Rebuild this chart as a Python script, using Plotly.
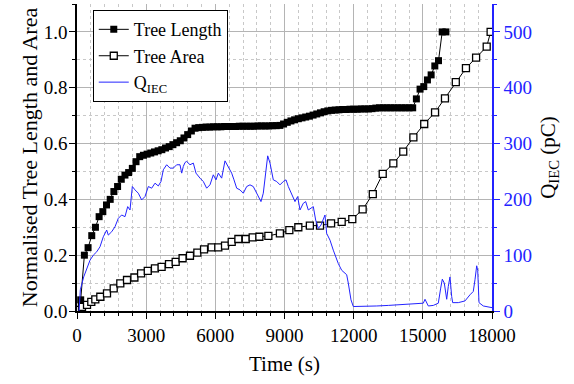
import plotly.graph_objects as go

# ---- Data ----
length_time = [160, 320, 480, 640, 800, 960, 1120, 1280, 1440, 1600,
               1760, 1920, 2080, 2240, 2400, 2560, 2720, 2880, 3040, 3200,
               3360, 3520, 3680, 3840, 4000, 4160, 4320, 4480, 4640, 4800,
               4960, 5120, 5280, 5440, 5600, 5760, 5920, 6080, 6240, 6400,
               6560, 6720, 6880, 7040, 7200, 7360, 7520, 7680, 7840, 8000,
               8160, 8320, 8480, 8640, 8800, 8960, 9120, 9280, 9440, 9600,
               9760, 9920, 10080, 10240, 10400, 10560, 10720, 10880, 11040, 11200,
               11360, 11520, 11680, 11840, 12000, 12160, 12320, 12480, 12640, 12800,
               12960, 13120, 13280, 13440, 13600, 13760, 13920, 14080, 14240, 14400,
               14560, 14720, 14880, 15040, 15200, 15360, 15520, 15680, 15840, 16000]
tree_length = [0.040, 0.200, 0.227, 0.270, 0.300, 0.338, 0.356, 0.380, 0.400, 0.428,
               0.446, 0.472, 0.487, 0.496, 0.511, 0.535, 0.553, 0.558, 0.562, 0.566,
               0.570, 0.574, 0.578, 0.584, 0.589, 0.596, 0.603, 0.610, 0.620, 0.632,
               0.645, 0.655, 0.657, 0.658, 0.659, 0.659, 0.660, 0.660, 0.660, 0.661,
               0.661, 0.661, 0.661, 0.662, 0.662, 0.662, 0.662, 0.662, 0.663, 0.663,
               0.663, 0.663, 0.664, 0.664, 0.665, 0.670, 0.676, 0.681, 0.685, 0.689,
               0.692, 0.695, 0.698, 0.702, 0.706, 0.710, 0.714, 0.717, 0.719, 0.720,
               0.721, 0.722, 0.722, 0.723, 0.723, 0.723, 0.724, 0.724, 0.724, 0.725,
               0.727, 0.728, 0.728, 0.728, 0.728, 0.728, 0.728, 0.728, 0.728, 0.728,
               0.728, 0.760, 0.795, 0.804, 0.828, 0.846, 0.878, 0.897, 1.000, 1.000]

area_time = [60, 217, 434, 620, 794, 1011, 1301, 1592, 1878, 2169,
             2490, 2780, 3070, 3380, 3670, 3990, 4280, 4580, 4900, 5220,
             5510, 5840, 6130, 6420, 6710, 7000, 7320, 7620, 7910, 8300,
             8800, 9210, 9600, 10100, 10540, 11020, 11480, 11940, 12390, 12830,
             13260, 13720, 14150, 14590, 15060, 15530, 15960, 16430, 16870, 17310,
             17770, 17940]
tree_area = [0.004, 0.015, 0.022, 0.033, 0.042, 0.051, 0.063, 0.081, 0.099, 0.111,
             0.120, 0.135, 0.144, 0.153, 0.158, 0.168, 0.176, 0.189, 0.198, 0.209,
             0.221, 0.228, 0.228, 0.234, 0.248, 0.258, 0.258, 0.264, 0.266, 0.269,
             0.278, 0.290, 0.300, 0.306, 0.306, 0.314, 0.319, 0.329, 0.364, 0.419,
             0.491, 0.529, 0.571, 0.622, 0.670, 0.712, 0.762, 0.820, 0.870, 0.908,
             0.947, 1.000]

q_time = [90, 145, 290, 434, 564, 707, 854, 997, 1084, 1141,
          1288, 1357, 1505, 1648, 1792, 1937, 2082, 2199, 2299, 2400,
          2515, 2659, 2804, 2949, 3094, 3239, 3383, 3527, 3643, 3744,
          3889, 4034, 4178, 4323, 4467, 4541, 4611, 4684, 4756, 4901,
          5045, 5161, 5335, 5479, 5624, 5768, 5912, 6029, 6130, 6275,
          6419, 6564, 6709, 6809, 6926, 7069, 7213, 7360, 7503, 7646,
          7794, 7980, 8080, 8197, 8271, 8371, 8514, 8661, 8805, 8948,
          9065, 9165, 9312, 9455, 9571, 9672, 9815, 9919, 10032, 10149,
          10249, 10352, 10467, 10583, 10683, 10756, 10829, 10973, 11116, 11190,
          11333, 11480, 11593, 11697, 11767, 11884, 11984, 12348, 13000, 13502,
          14000, 14443, 14900, 15020, 15094, 15166, 15237, 15454, 15671, 15775,
          15845, 15931, 16035, 16104, 16178, 16251, 16294, 16537, 16828, 17045,
          17188, 17262, 17336, 17380, 17436, 17622, 17912, 18000]
q_iec = [0, 38, 61, 79, 91, 100, 106, 115, 127, 133,
         145, 136, 142, 151, 166, 172, 169, 187, 181, 223,
         217, 211, 199, 205, 223, 220, 229, 224, 232, 253,
         262, 256, 256, 262, 262, 247, 259, 266, 268, 262,
         265, 247, 238, 232, 220, 226, 244, 235, 247, 238,
         269, 259, 247, 235, 220, 217, 211, 223, 226, 223,
         211, 196, 211, 253, 278, 265, 235, 232, 226, 232,
         235, 223, 208, 196, 205, 181, 193, 196, 181, 184,
         187, 163, 148, 154, 163, 172, 139, 127, 109, 100,
         85, 73, 68, 65, 50, 20, 8, 8, 9, 10,
         11, 12.5, 13, 14, 21, 14, 9, 10, 14, 41,
         57, 50, 21, 44, 61, 26, 15, 15, 18, 29,
         35, 56, 81, 73, 15, 9, 7, 6]

x_ticks = [0, 3000, 6000, 9000, 12000, 15000, 18000]

FONT = "Times New Roman, Liberation Serif, serif"
BLUE = "rgb(35,35,255)"
GRID = "rgb(180,180,180)"
MINOR_GRID = "rgb(200,200,200)"

fig = go.Figure()

fig.add_trace(go.Scatter(
    x=length_time, y=tree_length, name="Tree Length",
    mode="lines+markers",
    line=dict(color="black", width=1),
    marker=dict(symbol="square", size=7, color="black"),
))
fig.add_trace(go.Scatter(
    x=area_time, y=tree_area, name="Tree Area",
    mode="lines+markers",
    line=dict(color="black", width=1),
    marker=dict(symbol="square", size=7, color="white",
                line=dict(color="black", width=1.3)),
))
fig.add_trace(go.Scatter(
    x=q_time, y=q_iec, name="Q<sub>IEC</sub>",
    mode="lines", yaxis="y2",
    line=dict(color=BLUE, width=1),
))

fig.update_layout(
    width=574, height=384,
    margin=dict(l=77, r=82, t=4, b=73, autoexpand=False),
    paper_bgcolor="white", plot_bgcolor="white",
    font=dict(family=FONT, color="black", size=19),
    showlegend=True,
    legend=dict(
        x=0.038, y=0.98, xanchor="left", yanchor="top",
        bgcolor="white", bordercolor="black", borderwidth=1,
        font=dict(family=FONT, size=18, color="black"),
        tracegroupgap=0,
    ),
    xaxis=dict(
        range=[0, 18000], tickvals=x_ticks, ticktext=[str(v) for v in x_ticks],
        automargin=False,
        showline=True, linecolor="black", linewidth=1.5,
        ticks="outside", ticklen=6, tickwidth=1.2, tickcolor="black",
        showgrid=True, gridcolor=GRID, gridwidth=1, zeroline=False,
        minor=dict(dtick=600, tick0=0, ticks="outside", ticklen=3, tickcolor="black",
                   showgrid=True, gridcolor=MINOR_GRID, griddash="dot", gridwidth=1),
        title=dict(text="Time (s)", font=dict(size=21, family=FONT), standoff=12),
        tickfont=dict(size=19, family=FONT),
    ),
    xaxis2=dict(
        overlaying="x", side="top", range=[0, 18000], tickvals=x_ticks,
        automargin=False,
        showticklabels=False, showline=True, linecolor="black", linewidth=1.5,
        ticks="inside", ticklen=6, tickcolor="black", showgrid=False, zeroline=False,
        minor=dict(dtick=600, tick0=0, ticks="inside", ticklen=3, tickcolor="black",
                   showgrid=False),
    ),
    yaxis=dict(
        range=[0, 1.1], tick0=0, dtick=0.2, tickformat=".1f",
        automargin=False,
        showline=True, linecolor="black", linewidth=1.5,
        ticks="outside", ticklen=6, tickwidth=1.2, tickcolor="black",
        ticklabelstandoff=-2,
        showgrid=True, gridcolor=GRID, gridwidth=1, zeroline=False,
        minor=dict(dtick=0.1, tick0=0, ticks="outside", ticklen=3, tickcolor="black",
                   showgrid=True, gridcolor=MINOR_GRID, griddash="dot", gridwidth=1),
        title=dict(text="Normalised Tree Length and Area",
                   font=dict(size=22, family=FONT), standoff=0),
        tickfont=dict(size=19, family=FONT),
    ),
    yaxis2=dict(
        overlaying="y", side="right", range=[0, 550], tick0=0, dtick=100,
        automargin=False,
        showline=True, linecolor=BLUE, linewidth=1.5,
        ticks="outside", ticklen=6, tickwidth=1.2, tickcolor=BLUE,
        showgrid=False, zeroline=False,
        minor=dict(dtick=50, tick0=0, ticks="outside", ticklen=3, tickcolor=BLUE),
        tickfont=dict(size=19, family=FONT, color=BLUE),
        title=dict(text="Q<sub>IEC</sub> (pC)", font=dict(size=21, family=FONT, color="black"),
                   standoff=9),
    ),
)

fig.write_html("out.html", config={"displayModeBar": False},
               post_script="document.body.style.margin='0';")
